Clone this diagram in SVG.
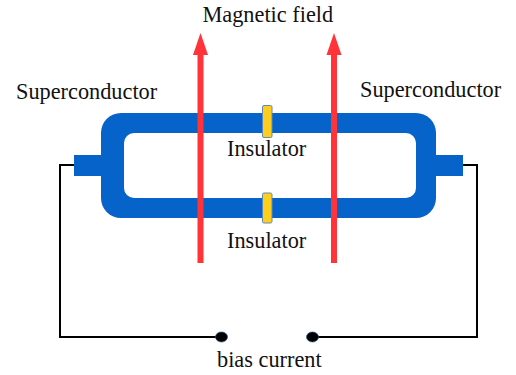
<svg xmlns="http://www.w3.org/2000/svg" width="516" height="375" viewBox="0 0 516 375">
<style>
text{font-family:"Liberation Serif","Times New Roman",serif;font-size:22.300px;fill:#111}
.b{fill:#0563c9}
.w{fill:none;stroke:#000;stroke-width:2}
.i{fill:#ffcd1c;stroke:#5b8ac0;stroke-width:1}
.r{stroke:#ff3338;stroke-width:6;fill:none}
.a{fill:#ff3338}
.d{fill:#000;stroke:#1f4e8c;stroke-width:.7}
</style>
<rect width="516" height="375" fill="#fff"/>
<g id="connectors">
<path class="w" d="M74 165H60V337H218"/>
<path class="w" d="M463 165H477V337H316"/>
</g>
<g id="loop">
<path class="b" fill-rule="evenodd" d="M121 113H416A20 20 0 0 1 436 133V198A20 20 0 0 1 416 218H121A20 20 0 0 1 101 198V133A20 20 0 0 1 121 113ZM134 133A10 10 0 0 0 124 143V188A10 10 0 0 0 134 198H406A10 10 0 0 0 416 188V143A10 10 0 0 0 406 133Z"/>
</g>
<g id="tab-left"><rect class="b" x="74" y="155" width="30" height="21"/></g>
<g id="tab-right"><rect class="b" x="433" y="155" width="30" height="21"/></g>
<g id="field-left">
<path class="r" d="M200.500 54V263"/><path class="a" d="M200.500 33L208 55H193Z"/>
</g>
<g id="field-right">
<path class="r" d="M334 54V263"/><path class="a" d="M334 33L341.500 55H326.500Z"/>
</g>
<g id="insulator-top"><rect class="i" x="262.500" y="105.500" width="9.500" height="32" rx="1.500"/></g>
<g id="insulator-bottom"><rect class="i" x="262.500" y="193" width="9.500" height="30" rx="1.500"/></g>
<g id="terminal-left"><ellipse class="d" cx="221.500" cy="337" rx="6" ry="5"/></g>
<g id="terminal-right"><ellipse class="d" cx="312.500" cy="337" rx="6" ry="5"/></g>
<g id="labels">
<text x="202.500" y="21.500">Magnetic field</text>
<text x="16" y="99">Superconductor</text>
<text x="360" y="97">Superconductor</text>
<text x="227" y="156">Insulator</text>
<text x="227" y="248">Insulator</text>
<text x="217" y="367">bias current</text>
</g>
</svg>
